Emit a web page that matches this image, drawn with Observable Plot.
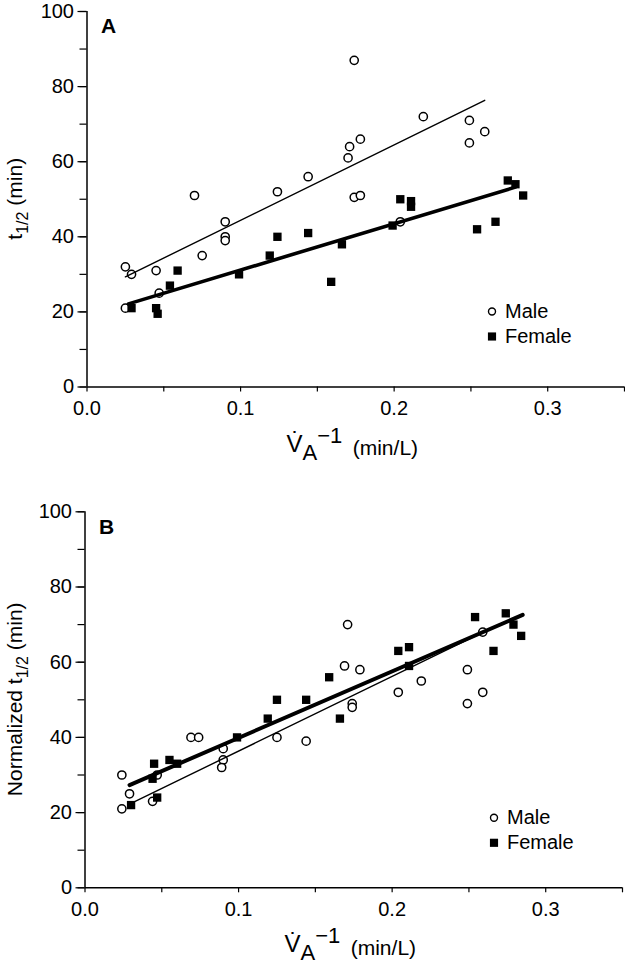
<!DOCTYPE html>
<html><head><meta charset="utf-8">
<script src="https://cdn.jsdelivr.net/npm/d3@7"></script>
<script src="https://cdn.jsdelivr.net/npm/@observablehq/plot@0.6"></script>
<style>
body{margin:0;background:#fff;}
#chart{width:625px;height:969px;font-family:"Liberation Sans",Arial,sans-serif;}
#chart svg{display:block;}
</style></head><body><div id="chart"></div>
<script>
// ---- axis ticks ----
const xTickLabels = [0, 0.1, 0.2, 0.3];
const xMinorTicks = [0, 0.05, 0.1, 0.15, 0.2, 0.25, 0.3, 0.35];
const yTickLabels = [0, 20, 40, 60, 80, 100];
const yMinorTicks = [0, 10, 20, 30, 40, 50, 60, 70, 80, 90, 100];
const series = ["Male", "Female"];

// ---- Panel A: t1/2 (min) ----
const maleA_x = [0.025, 0.029, 0.025, 0.045, 0.047, 0.070, 0.075, 0.090, 0.090, 0.090, 0.124, 0.144, 0.170, 0.171, 0.174, 0.174, 0.178, 0.178, 0.204, 0.219, 0.249, 0.249, 0.259];
const maleA_y = [32, 30, 21, 31, 25, 51, 35, 44, 40, 39, 52, 56, 61, 64, 87, 50.5, 51, 66, 44, 72, 71, 65, 68];
const femaleA_x = [0.029, 0.045, 0.046, 0.054, 0.059, 0.099, 0.119, 0.124, 0.144, 0.159, 0.166, 0.199, 0.204, 0.211, 0.211, 0.254, 0.266, 0.274, 0.279, 0.284];
const femaleA_y = [21, 21, 19.5, 27, 31, 30, 35, 40, 41, 28, 38, 43, 50, 49.5, 48, 42, 44, 55, 54, 51];
// fitted lines (Male, Female)
const fitA_intercept = [24.3, 18.8];
const fitA_slope = [201, 123.4];
const fitA_xStart = [0.025, 0.027];
const fitA_xEnd = [0.259, 0.279];

// ---- Panel B: Normalized t1/2 (min) ----
const maleB_x = [0.024, 0.029, 0.024, 0.044, 0.047, 0.069, 0.074, 0.090, 0.090, 0.089, 0.125, 0.144, 0.174, 0.174, 0.171, 0.169, 0.179, 0.204, 0.219, 0.249, 0.259, 0.259, 0.249];
const maleB_y = [30, 25, 21, 23, 30, 40, 40, 37, 34, 32, 40, 39, 49, 48, 70, 59, 58, 52, 55, 58, 52, 68, 49];
const femaleB_x = [0.030, 0.045, 0.044, 0.047, 0.055, 0.060, 0.099, 0.119, 0.125, 0.144, 0.159, 0.166, 0.204, 0.211, 0.211, 0.254, 0.266, 0.274, 0.279, 0.284];
const femaleB_y = [22, 33, 29, 24, 34, 33, 40, 45, 50, 50, 56, 45, 63, 64, 59, 72, 63, 73, 70, 67];
const fitB_intercept = [16.5, 22.2];
const fitB_slope = [198.6, 176.8];
const fitB_xStart = [0.029, 0.029];
const fitB_xEnd = [0.259, 0.285];

const FONT = '"Liberation Sans", Arial, sans-serif';

function makePanel(cfg) {
  const males = cfg.maleX.map((x, i) => ({x, y: cfg.maleY[i]}));
  const females = cfg.femaleX.map((x, i) => ({x, y: cfg.femaleY[i]}));
  const fits = series.flatMap((s, i) => [cfg.fitStart[i], cfg.fitEnd[i]].map(x => ({s, x, y: cfg.intercept[i] + cfg.slope[i] * x})));
  const svg = Plot.plot({
    width: 625,
    height: cfg.height,
    marginLeft: cfg.marginLeft,
    marginRight: cfg.marginRight,
    marginTop: cfg.marginTop,
    marginBottom: cfg.marginBottom,
    style: {fontFamily: FONT, fontSize: "20px", color: "black", background: "white", overflow: "visible"},
    x: {domain: [0, 0.35]},
    y: {domain: [0, 100]},
    marks: [
      Plot.axisX({ticks: xMinorTicks, tickFormat: () => "", tickSize: 5, label: null, strokeWidth: 1.2}),
      Plot.axisX({ticks: xTickLabels, tickFormat: d => d.toFixed(1), tickSize: 0, tickPadding: 14, label: null, fontSize: 20}),
      Plot.axisY({ticks: yMinorTicks, tickFormat: () => "", tickSize: 7, label: null, strokeWidth: 1.2}),
      Plot.axisY({ticks: yTickLabels, tickSize: 9, tickPadding: 4, label: null, fontSize: 20, strokeWidth: 1.2}),
      Plot.ruleY([0], {strokeWidth: 1.5}),
      Plot.ruleX([0], {strokeWidth: 1.5}),
      Plot.dot(males, {x: "x", y: "y", r: 4.1, stroke: "black", fill: "white", strokeWidth: 1.5}),
      Plot.dot(females, {x: "x", y: "y", symbol: "square", r: 4.7, fill: "black", stroke: "none"}),
      Plot.line(fits.filter(d => d.s === "Male"), {x: "x", y: "y", stroke: "black", strokeWidth: 1.4}),
      Plot.line(fits.filter(d => d.s === "Female"), {x: "x", y: "y", stroke: "black", strokeWidth: cfg.femaleWidth}),
      // panel letter
      Plot.text([cfg.letter], {frameAnchor: "top-left", text: d => d, dx: 14, dy: 7, lineAnchor: "top", fontSize: 21, fontWeight: "bold", textAnchor: "start"}),
      // legend
      Plot.dot([series[0]], {frameAnchor: "top-left", dx: cfg.legDx, dy: cfg.legDy, r: 3.5, stroke: "black", fill: "white", strokeWidth: 1.4}),
      Plot.dot([series[1]], {frameAnchor: "top-left", dx: cfg.legDx, dy: cfg.legDy + 25, symbol: "square", r: 4.6, fill: "black"}),
      Plot.text([series[0]], {frameAnchor: "top-left", text: d => d, dx: cfg.legDx + 13, dy: cfg.legDy, lineAnchor: "middle", textAnchor: "start", fontSize: 20}),
      Plot.text([series[1]], {frameAnchor: "top-left", text: d => d, dx: cfg.legDx + 13, dy: cfg.legDy + 25, lineAnchor: "middle", textAnchor: "start", fontSize: 20})
    ]
  });
  const s = d3.select(svg);
  const plotTop = cfg.marginTop, plotBottom = cfg.height - cfg.marginBottom;
  // y axis title
  const yt = s.append("text")
    .attr("transform", `translate(${cfg.yTitleX},${(plotTop + plotBottom) / 2}) rotate(-90)`)
    .attr("text-anchor", "middle")
    .attr("font-family", FONT).attr("font-size", 21).attr("fill", "black");
  yt.append("tspan").text(cfg.yPrefix + "t");
  yt.append("tspan").attr("dy", 6).attr("font-size", 16).text("1/2");
  yt.append("tspan").attr("dy", -6).text(" (min)");
  // x axis title
  const xt = s.append("text")
    .attr("x", (cfg.marginLeft + 625 - cfg.marginRight) / 2 - 3)
    .attr("y", plotBottom + 65)
    .attr("text-anchor", "middle")
    .attr("font-family", FONT).attr("font-size", 24).attr("fill", "black");
  xt.append("tspan").text("V\u0307");
  xt.append("tspan").attr("dy", 8).attr("font-size", 22).text("A");
  xt.append("tspan").attr("dy", -17).attr("font-size", 22).text("\u22121");
  xt.append("tspan").attr("dy", 12).attr("font-size", 21).text("\u2002(min/L)");
  return svg;
}

const chart = document.getElementById("chart");
chart.appendChild(makePanel({
  maleX: maleA_x, maleY: maleA_y, femaleX: femaleA_x, femaleY: femaleA_y,
  intercept: fitA_intercept, slope: fitA_slope, fitStart: fitA_xStart, fitEnd: fitA_xEnd,
  height: 500, marginLeft: 86.5, marginRight: 1, marginTop: 11, marginBottom: 113.5,
  letter: "A", yPrefix: "", yTitleX: 22, femaleWidth: 3.6, legDx: 405, legDy: 300
}));
chart.appendChild(makePanel({
  maleX: maleB_x, maleY: maleB_y, femaleX: femaleB_x, femaleY: femaleB_y,
  intercept: fitB_intercept, slope: fitB_slope, fitStart: fitB_xStart, fitEnd: fitB_xEnd,
  height: 469, marginLeft: 84.5, marginRight: 3, marginTop: 11.3, marginBottom: 81.7,
  letter: "B", yPrefix: "Normalized ", yTitleX: 22, femaleWidth: 4, legDx: 409, legDy: 306
}));
</script></body></html>
